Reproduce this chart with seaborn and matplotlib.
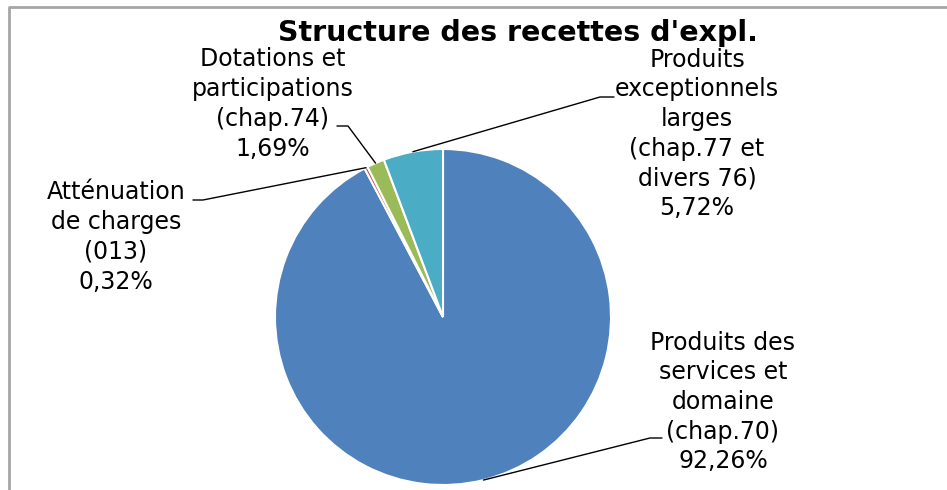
import matplotlib
matplotlib.use("Agg")
import matplotlib.pyplot as plt
import numpy as np
import seaborn as sns

sns.set_theme(style="white")
plt.rcParams['font.family'] = ['DejaVu Sans']

# data
labels = ["Produits des\nservices et\ndomaine\n(chap.70)",
          "Atténuation\nde charges\n(013)",
          "Dotations et\nparticipations\n(chap.74)",
          "Produits\nexceptionnels\nlarges\n(chap.77 et\ndivers 76)"]
shares = [92.26, 0.32, 1.69, 5.72]
colors = ["#4F81BD", "#C0504D", "#9BBB59", "#4BACC6"]

# label layout in pixels (text center, elbow point, side of elbow)
W, H = 947, 490
text_pos = [(723, 402), (116, 237), (273, 104), (697, 134)]
elbow = [(650, 438), (203, 200), (348, 126), (600, 97)]
elbow_end = [662, 193, 337, 614]

cx, cy, r = 443, 317, 168

fig = plt.figure(figsize=(W / 100, H / 100), dpi=100)
ax = fig.add_axes([0, 0, 1, 1])

wedges, _ = ax.pie(shares, colors=colors, startangle=90, counterclock=False,
                   center=(cx, H - cy), radius=r,
                   wedgeprops=dict(edgecolor='white', linewidth=1.5))
ax.set_xlim(0, W)
ax.set_ylim(0, H)
ax.set_aspect('equal')
ax.axis('off')

cum = np.cumsum([0] + shares)
for i, lab in enumerate(labels):
    mid = 90 - 360 * (cum[i] + cum[i + 1]) / 2 / 100
    ex = cx + r * np.cos(np.radians(mid))
    ey = H - cy + r * np.sin(np.radians(mid))
    bx, by = elbow[i]
    ax.plot([ex, bx, elbow_end[i]], [ey, H - by, H - by], color='black', lw=1)
    txt = lab + "\n" + f"{shares[i]:.2f}%".replace('.', ',')
    tx, ty = text_pos[i]
    ax.text(tx, H - ty, txt, ha='center', va='center', fontsize=17,
            linespacing=1.3, color='black')

ax.text(518, H - 33, "Structure des recettes d'expl.", ha='center', va='center',
        fontsize=20.5, fontweight='bold', color='black')

# chart-area border (left and top visible)
ax.plot([9, 9, W], [0, H - 7, H - 7], color='#A6A6A6', lw=2, clip_on=False)

fig.savefig("out.png", dpi=100)
